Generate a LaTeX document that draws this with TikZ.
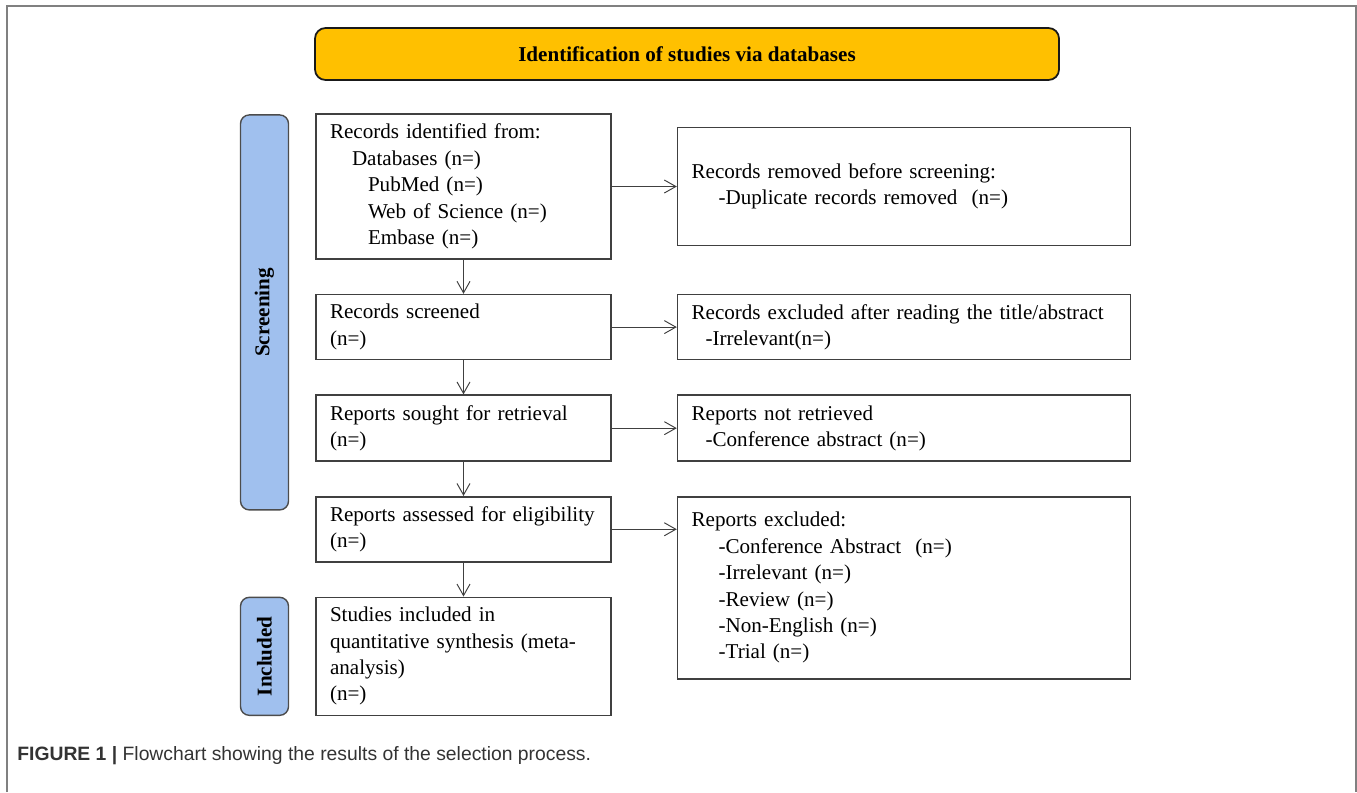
\documentclass[tikz,border=0pt]{standalone}
\usepackage{fontspec}
\setmainfont{Liberation Serif}
\newfontfamily\capfont{Liberation Sans}
\usetikzlibrary{positioning, arrows.meta, calc}
\definecolor{headorange}{RGB}{255,192,0}
\definecolor{stageblue}{RGB}{160,192,238}

\begin{document}
\begin{tikzpicture}[
        node distance=0.68cm and 1.30cm,
        headbox/.style={rectangle, rounded corners=6pt, draw=black!90, line width=1pt, fill=headorange, minimum width=14.88cm, minimum height=1.04cm, align=center, font=\fontsize{12}{15}\selectfont\bfseries},
        stagebox/.style={rectangle, rounded corners=5pt, draw=black!70, line width=0.8pt, fill=stageblue, minimum height=0.96cm, inner sep=0pt, rotate=90, font=\fontsize{12}{15}\selectfont\bfseries},
        flowbox/.style={rectangle, draw=black!75, line width=0.9pt, text width=5.34cm, inner xsep=0.28cm, inner ysep=0pt, align=left, font=\fontsize{12}{15}\selectfont},
        exclbox/.style={flowbox, text width=8.5cm},
        arr/.style={-{Straight Barb[length=2.3mm, width=2.6mm]}, line width=0.55pt, black!75},
        frame/.style={draw=black!50, line width=1.1pt},
    ]
        \useasboundingbox (0,0) rectangle (27.14,-15.84);
        \draw[frame] (0.14,-15.84) -- (0.14,-0.12) -- (27.12,-0.12) -- (27.12,-15.84);

        \node[headbox] (head) at (13.74,-1.08) {Identification of studies via databases};

        % main column
        \node[flowbox, minimum height=2.9cm] (ident) at (9.27,-3.73) {Records identified from:\\\hspace*{0.44cm}Databases (n=)\\\hspace*{0.76cm}PubMed (n=)\\\hspace*{0.76cm}Web of Science (n=)\\\hspace*{0.76cm}Embase (n=)};
        \node[flowbox, minimum height=1.3cm, below=of ident] (screened) {Records screened\\(n=)};
        \node[flowbox, minimum height=1.32cm, below=of screened] (sought) {Reports sought for retrieval\\(n=)};
        \node[flowbox, minimum height=1.3cm, below=of sought] (assessed) {\mbox{Reports assessed for eligibility}\\(n=)};
        \node[flowbox, minimum height=2.36cm, below=of assessed] (included) {Studies included in\\quantitative synthesis (meta-\\analysis)\\(n=)};

        % exclusions
        \node[exclbox, minimum height=2.36cm, right=of ident] (removed) {Records removed before screening:\\\hspace*{0.54cm}-Duplicate records removed\ \ (n=)};
        \node[exclbox, minimum height=1.3cm, right=of screened] (irrel) {Records excluded after reading the title/abstract\\\hspace*{0.28cm}-Irrelevant(n=)};
        \node[exclbox, minimum height=1.32cm, right=of sought] (notret) {Reports not retrieved\\\hspace*{0.28cm}-Conference abstract (n=)};
        \node[exclbox, minimum height=3.64cm, anchor=north west] (excluded) at ([xshift=1.30cm]assessed.north east) {Reports excluded:\\\hspace*{0.54cm}-Conference Abstract\ \ (n=)\\\hspace*{0.54cm}-Irrelevant (n=)\\\hspace*{0.54cm}-Review (n=)\\\hspace*{0.54cm}-Non-English (n=)\\\hspace*{0.54cm}-Trial (n=)};

        % stage labels
        \node[stagebox, minimum width=7.9cm, anchor=south east] (screenlab) at ([xshift=-0.52cm, yshift=-0.02cm]ident.north west) {Screening};
        \node[stagebox, minimum width=2.36cm, anchor=south] (inclab) at ([xshift=-0.52cm]included.west) {Included};

        \node[anchor=west, inner sep=0pt, text=black!80, font=\capfont\fontsize{11}{13}\selectfont] (caption) at (0.34,-15.12) {\textbf{FIGURE 1 |} Flowchart showing the results of the selection process.};

        \draw[arr] (ident) -- (screened);
        \draw[arr] (screened) -- (sought);
        \draw[arr] (sought) -- (assessed);
        \draw[arr] (assessed) -- (included);
        \draw[arr] (ident) -- (removed);
        \draw[arr] (screened) -- (irrel);
        \draw[arr] (sought) -- (notret);
        \draw[arr] (assessed.east) -- (assessed.east -| excluded.west);
    \end{tikzpicture}
\end{document}
